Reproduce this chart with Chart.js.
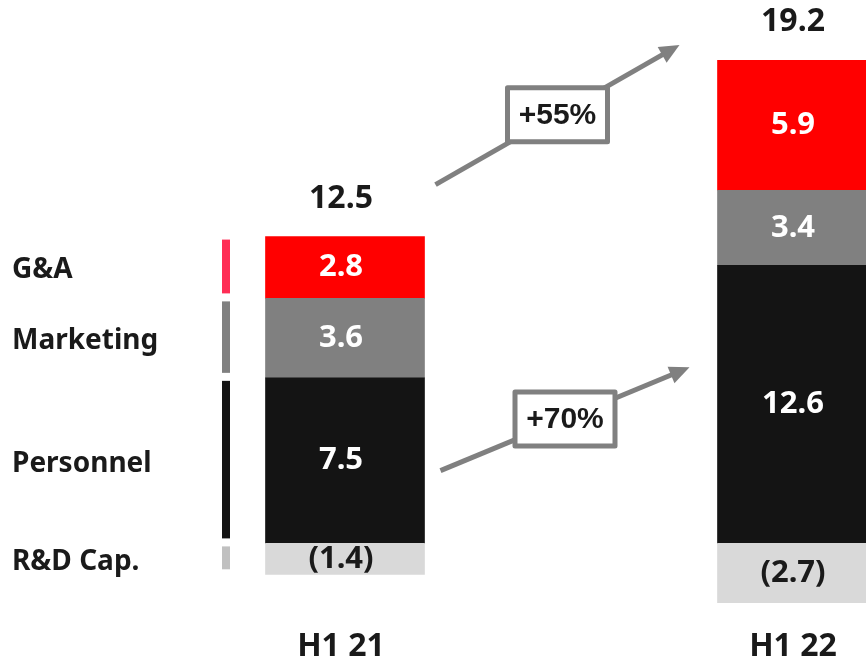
<!DOCTYPE html>
<html>
<head>
<meta charset="utf-8">
<script src="https://cdn.jsdelivr.net/npm/chart.js@4"></script>
<style>
  html, body { margin: 0; padding: 0; background: #fff; overflow: hidden; }
  #wrap { width: 1030px; height: 663px; }
</style>
</head>
<body>
<div id="wrap"><canvas id="opexChart" width="1030" height="663"></canvas></div>
<script>
const periods = ["H1 21", "H1 22"];
const rdCap = [-1.4, -2.7];
const personnel = [7.5, 12.6];
const marketing = [3.6, 3.4];
const gna = [2.8, 5.9];
const totals = [12.5, 19.2];
const growth = ["+55%", "+70%"];

const rowNames = ["R&D Cap.", "Personnel", "Marketing", "G&A"];
const barColors = ["#d9d9d9", "#141414", "#808080", "#ff0000"];
const keyColors = ["#c0c0c0", "#141414", "#808080", "#ff2d55"];
const textColors = ["#1a1a1a", "#ffffff", "#ffffff", "#ffffff"];

const FONT = "'Noto Sans', sans-serif";
const ARROW = "#808080";

function fmt(v) {
  return v < 0 ? "(" + Math.abs(v).toFixed(1) + ")" : v.toFixed(1);
}

function drawArrow(ctx, x1, y1, x2, y2, text) {
  const ang = Math.atan2(y2 - y1, x2 - x1);
  const head = 20;
  ctx.save();
  ctx.strokeStyle = ARROW;
  ctx.fillStyle = ARROW;
  ctx.lineWidth = 5;
  ctx.beginPath();
  ctx.moveTo(x1, y1);
  ctx.lineTo(x2 - Math.cos(ang) * head * 0.8, y2 - Math.sin(ang) * head * 0.8);
  ctx.stroke();
  ctx.beginPath();
  ctx.moveTo(x2, y2);
  ctx.lineTo(x2 - head * Math.cos(ang) + 9 * Math.sin(ang), y2 - head * Math.sin(ang) - 9 * Math.cos(ang));
  ctx.lineTo(x2 - head * Math.cos(ang) - 9 * Math.sin(ang), y2 - head * Math.sin(ang) + 9 * Math.cos(ang));
  ctx.closePath();
  ctx.fill();

  // growth box on the middle of the arrow
  const mx = (x1 + x2) / 2, my = (y1 + y2) / 2;
  const bw = 100, bh = 54;
  ctx.fillStyle = "#ffffff";
  ctx.fillRect(mx - bw / 2, my - bh / 2, bw, bh);
  ctx.lineWidth = 5;
  ctx.lineJoin = "round";
  ctx.strokeRect(mx - bw / 2, my - bh / 2, bw, bh);
  ctx.fillStyle = "#1a1a1a";
  ctx.font = "bold 30px 'Liberation Sans', Arial, sans-serif";
  ctx.textAlign = "center";
  ctx.textBaseline = "middle";
  ctx.fillText(text, mx, my + 1);
  ctx.restore();
}

const annotations = {
  id: "annotations",
  afterDatasetsDraw(chart) {
    const ctx = chart.ctx;
    const metas = chart.data.datasets.map((d, i) => chart.getDatasetMeta(i));
    ctx.save();
    ctx.textAlign = "center";
    ctx.textBaseline = "middle";

    // values inside segments
    metas.forEach((meta, di) => {
      meta.data.forEach((el, i) => {
        const v = chart.data.datasets[di].data[i];
        ctx.fillStyle = textColors[di];
        ctx.font = "bold 31px " + FONT;
        ctx.fillText(fmt(v), el.x - 4, (el.y + el.base) / 2);
      });
    });

    // totals and period labels
    periods.forEach((p, i) => {
      const top = metas[3].data[i];
      ctx.fillStyle = "#1a1a1a";
      ctx.font = "bold 32px " + FONT;
      ctx.fillText(totals[i].toFixed(1), top.x - 4, Math.min(top.y, top.base) - 38);
      ctx.fillText(p, top.x - 4, 647);
    });

    // row key beside the first bar
    ctx.textAlign = "left";
    metas.forEach((meta, di) => {
      const el = meta.data[0];
      const y0 = Math.min(el.y, el.base), y1 = Math.max(el.y, el.base);
      ctx.fillStyle = keyColors[di];
      ctx.fillRect(222, y0 + 3, 8, y1 - y0 - 8);
      ctx.fillStyle = "#1a1a1a";
      ctx.font = "bold 28px " + FONT;
      ctx.fillText(rowNames[di], 12, (y0 + y1) / 2 + 3);
    });

    // growth arrows
    const a = metas[3].data[0], b = metas[3].data[1];
    drawArrow(ctx, a.x + a.width / 2 + 11, a.y - 52, b.x - b.width / 2 - 38, b.y - 15, growth[0]);
    const c = metas[1].data[0], d = metas[1].data[1];
    drawArrow(ctx, c.x + c.width / 2 + 16, (c.y + c.base) / 2 + 10,
      d.x - d.width / 2 - 28, (d.y + d.base) / 2 - 37, growth[1]);
    ctx.restore();
  }
};

const opexCtx = document.getElementById("opexChart").getContext("2d");
const opexChart = new Chart(opexCtx, {
  type: "bar",
  data: {
    labels: periods,
    datasets: [
      { label: rowNames[0], data: rdCap, backgroundColor: barColors[0] },
      { label: rowNames[1], data: personnel, backgroundColor: barColors[1] },
      { label: rowNames[2], data: marketing, backgroundColor: barColors[2] },
      { label: rowNames[3], data: gna, backgroundColor: barColors[3] },
    ],
  },
  options: {
    responsive: false,
    animation: false,
    barThickness: 159,
    borderWidth: 0,
    layout: { padding: { left: 119, right: 7, top: 60, bottom: 60 } },
    scales: {
      x: { stacked: true, display: false },
      y: { stacked: true, display: false, min: -2.7, max: 21.9 },
    },
    plugins: {
      legend: { display: false },
      tooltip: { enabled: false },
    },
  },
  plugins: [annotations],
});
</script>
</body>
</html>
